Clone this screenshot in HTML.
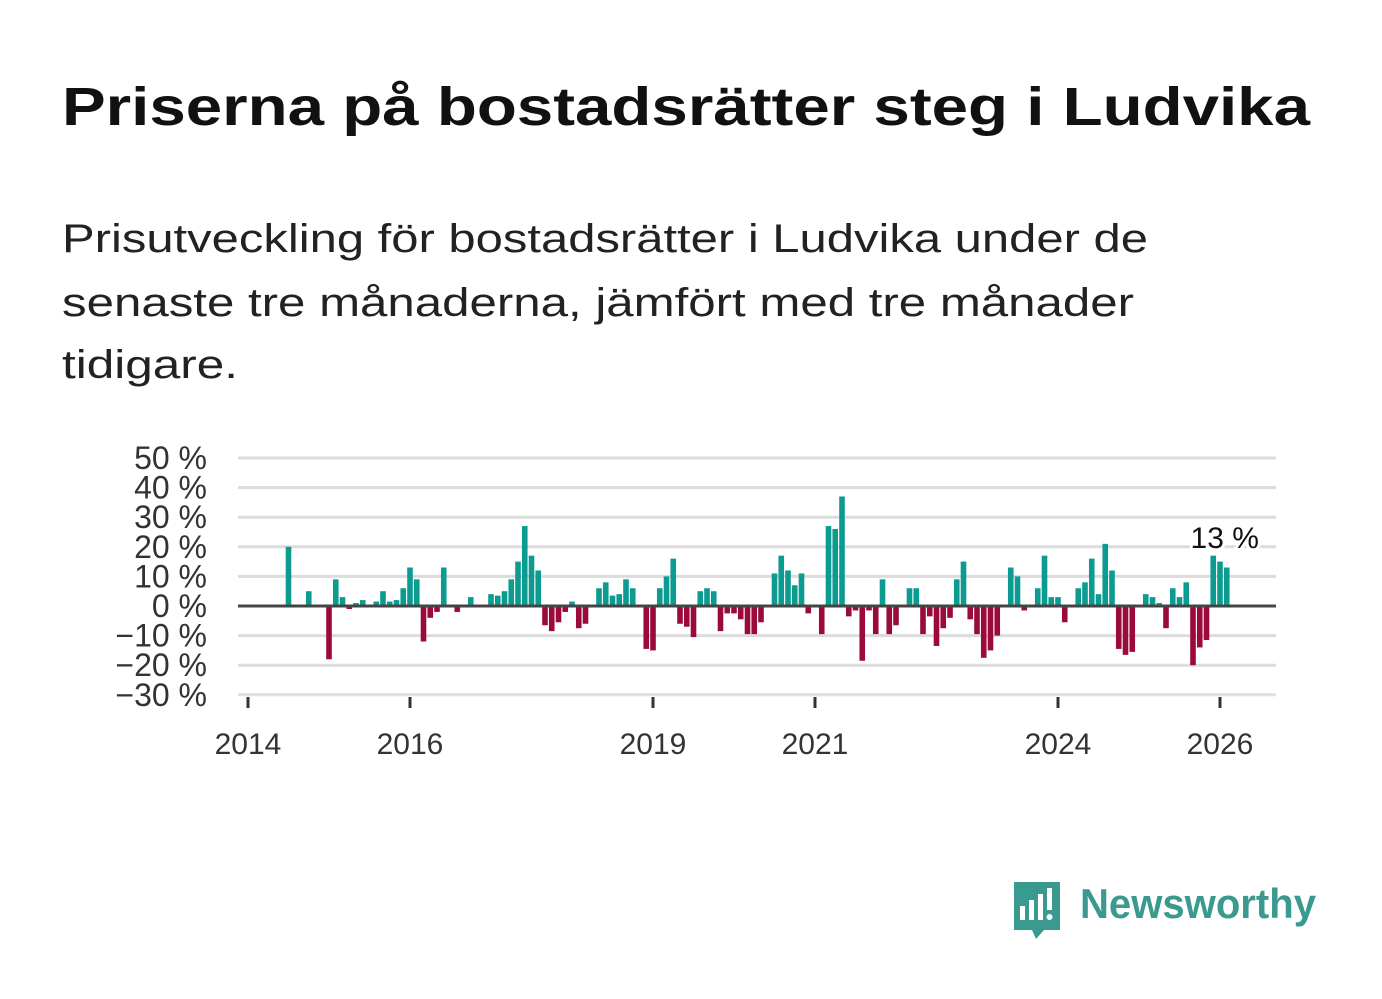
<!DOCTYPE html>
<html><head><meta charset="utf-8"><style>
body{margin:0;background:#fff;}
svg{display:block;font-family:"Liberation Sans","DejaVu Sans",sans-serif;}
</style></head><body>
<svg id="chart" width="1382" height="999" viewBox="0 0 1382 999">
<text x="62" y="125" font-size="54" font-weight="bold" fill="#111" textLength="1248" lengthAdjust="spacingAndGlyphs">Priserna på bostadsrätter steg i Ludvika</text>
<g font-size="40" fill="#222">
<text x="62" y="252" textLength="1086" lengthAdjust="spacingAndGlyphs">Prisutveckling för bostadsrätter i Ludvika under de</text>
<text x="62" y="316" textLength="1072" lengthAdjust="spacingAndGlyphs">senaste tre månaderna, jämfört med tre månader</text>
<text x="62" y="378" textLength="176" lengthAdjust="spacingAndGlyphs">tidigare.</text>
</g>
<g id="grid"></g>
<g id="yaxis"></g>
<g id="xaxis"></g>
<g id="bars"></g>
<g>
<path d="M1014 882 h46 v48 h-16 l-8 9 l-4 -9 h-18 z" fill="#3a9a8f"/>
<rect x="1020" y="906" width="5" height="14" fill="#fff"/>
<rect x="1029" y="900" width="5" height="20" fill="#fff"/>
<rect x="1038" y="894" width="5" height="26" fill="#fff"/>
<rect x="1047" y="888" width="5" height="22" fill="#fff"/>
<circle cx="1049.5" cy="917" r="3" fill="#fff"/>
<text x="1080" y="918" font-size="42" font-weight="bold" fill="#3a9a8f" textLength="236" lengthAdjust="spacingAndGlyphs">Newsworthy</text>
</g>
</svg>
<script>
const yTicks=[50,40,30,20,10,0,-10,-20,-30];
const yearLabels=["2014","2016","2019","2021","2024","2026"];
const yearMonthIdx=[0,24,60,84,120,144];
const monthIdx=[6,9,12,13,14,15,16,17,19,20,21,22,23,24,25,26,27,28,29,31,32,33,36,37,38,39,40,41,42,43,44,45,46,47,48,49,50,52,53,54,55,56,57,59,60,61,62,63,64,65,66,67,68,69,70,71,72,73,74,75,76,77,78,79,80,81,82,83,84,85,86,87,88,89,90,91,92,93,94,95,96,98,99,100,101,102,103,104,105,106,107,108,109,110,111,113,114,115,117,118,119,120,121,122,123,124,125,126,127,128,129,130,131,133,134,135,136,137,138,139,140,141,142,143,144,145];
const values=[20,5,-18,9,3,-1,1,2,1.5,5,1.5,2,6,13,9,-12,-4,-2,13,-2,0.5,3,4,3.5,5,9,15,27,17,12,-6.5,-8.5,-5.5,-2,1.5,-7.5,-6,6,8,3.5,4,9,6,-14.5,-15,6,10,16,-6,-7,-10.5,5,6,5,-8.5,-2.5,-2.5,-4.5,-9.5,-9.5,-5.5,-0.5,11,17,12,7,11,-2.5,0.5,-9.5,27,26,37,-3.5,-1.5,-18.5,-1.5,-9.5,9,-9.5,-6.5,6,6,-9.5,-3.5,-13.5,-7.5,-4,9,15,-4.5,-9.5,-17.5,-15,-10,13,10,-1.5,6,17,3,3,-5.5,-0.5,6,8,16,4,21,12,-14.5,-16.5,-15.5,4,3,1,-7.5,6,3,8,-20,-14,-11.5,17,15,13];
const NS="http://www.w3.org/2000/svg";
const X=m=>248+m*6.75;
const Y=v=>606-v*2.96;
function mk(tag,attrs,parent){const e=document.createElementNS(NS,tag);for(const k in attrs)e.setAttribute(k,attrs[k]);parent.appendChild(e);return e;}
const grid=document.getElementById('grid'),ya=document.getElementById('yaxis'),xa=document.getElementById('xaxis'),bars=document.getElementById('bars');
yTicks.forEach(t=>{
  const l=mk('line',{x1:238,x2:1276,y1:Y(t),y2:Y(t),stroke:'#dcdcdc','stroke-width':3},grid);
  
  
  const tx=mk('text',{x:207,y:Y(t)+11,'text-anchor':'end','font-size':32,fill:'#333'},ya);
  tx.textContent=(t<0?'\u2212'+(-t):t)+' %';
  
  
});
mk('line',{x1:238,x2:1276,y1:695,y2:695,stroke:'#e6e6e6','stroke-width':1},xa);
yearLabels.forEach((lab,i)=>{
  const x=X(yearMonthIdx[i]);
  const tk=mk('line',{x1:x,x2:x,y1:697,y2:708,stroke:'#333','stroke-width':3},xa);
  
  
  const tx=mk('text',{x:x,y:754,'text-anchor':'middle','font-size':30,fill:'#333'},xa);
  tx.textContent=lab;
  
  
});
monthIdx.forEach((m,i)=>{
  const v=values[i];
  const r=mk('rect',{x:X(m)-2.8,width:5.6,y:Math.min(Y(v),Y(0)),height:Math.abs(Y(v)-Y(0)),fill:v>=0?'#0b9b91':'#9b0a3c'},bars);
  
  
});
const z=mk('line',{x1:238,x2:1276,y1:Y(0),y2:Y(0),stroke:'#444','stroke-width':3},bars);


const li=values.length-1;
const lbl=mk('text',{x:X(monthIdx[li])-2,y:Y(20)+1,'text-anchor':'middle','font-size':30,fill:'#111',stroke:'#fff','stroke-width':6,'paint-order':'stroke'},bars);
lbl.textContent=Math.round(values[li])+' %';


</script>
</body></html>
